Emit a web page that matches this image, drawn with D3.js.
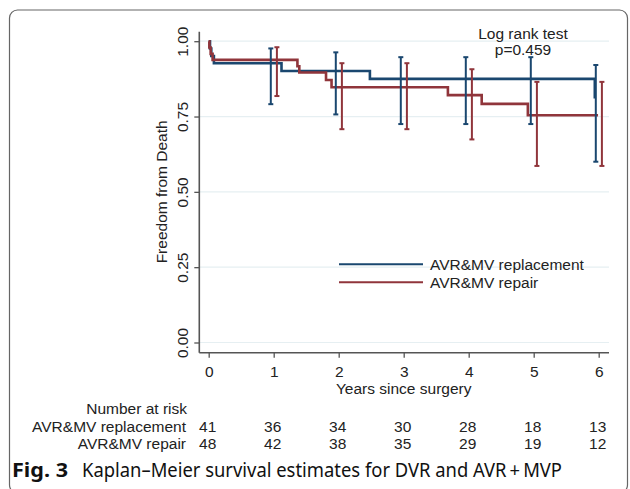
<!DOCTYPE html>
<html lang="en">
<head>
<meta charset="UTF-8">
<title>Kaplan-Meier survival estimates</title>
<style>
  body { margin: 0; background: #fff; }
  svg { display: block; font-family: "Liberation Sans", Arial, sans-serif; }
  .axis text { font-size: 15.5px; fill: #222; }
  .axis line { stroke: #555; stroke-width: 1.3px; }
  .axis path { display: none; }
</style>
</head>
<body>
<div id="chart"></div>
<script src="https://d3js.org/d3.v7.min.js"></script>
<script>
// data
const groups = ["AVR&MV replacement", "AVR&MV repair"];
const yearTicks = [0, 1, 2, 3, 4, 5, 6];
const survTicks = [0, 0.25, 0.5, 0.75, 1];

const replTime = [0, 0.02, 0.04, 0.08, 1.12, 2.48, 5.94, 5.96];
const replSurv = [1, 0.976, 0.951, 0.927, 0.901, 0.875, 0.814, 0.814];
const repairTime = [0, 0.01, 0.03, 0.06, 1.365, 1.394, 1.805, 1.89, 3.68, 4.20, 4.91, 5.99];
const repairSurv = [1, 0.979, 0.958, 0.938, 0.917, 0.896, 0.871, 0.847, 0.821, 0.792, 0.754, 0.754];

const ciYears = [1, 2, 3, 4, 5, 6];
const replLo = [0.791, 0.757, 0.725, 0.725, 0.725, 0.600];
const replHi = [0.976, 0.963, 0.947, 0.947, 0.947, 0.921];
const repairLo = [0.818, 0.708, 0.708, 0.674, 0.586, 0.586];
const repairHi = [0.980, 0.927, 0.927, 0.907, 0.865, 0.865];

const replRisk = [41, 36, 34, 30, 28, 18, 13];
const repairRisk = [48, 42, 38, 35, 29, 19, 12];

const colors = ["#1a476f", "#90353b"];
const fs = "15.5px";

const W = 630, H = 489;
const svg = d3.select("#chart").append("svg")
  .attr("width", W)
  .attr("height", H);

// figure frame
svg.append("rect")
  .attr("x", 9.5).attr("y", 10)
  .attr("width", 618).attr("height", 483)
  .attr("rx", 8)
  .attr("fill", "none")
  .attr("stroke", "#666")
  .attr("stroke-width", 1.2);

const x = d3.scaleLinear().domain([0, 6]).range([208.7, 598.7]);
const y = d3.scaleLinear().domain([0, 1]).range([342.5, 41.2]);

const axisX = 199.3, axisY = 352.7, plotRight = 609, plotTop = 31.7;

// gridlines
svg.append("g")
  .selectAll("line")
  .data(survTicks)
  .enter().append("line")
  .attr("x1", axisX).attr("x2", plotRight)
  .attr("y1", d => y(d)).attr("y2", d => y(d))
  .attr("stroke", "#e6eff2")
  .attr("stroke-width", 1.2);

// y axis
const gy = svg.append("g")
  .attr("class", "axis")
  .attr("transform", `translate(${axisX},0)`)
  .call(d3.axisLeft(y).tickValues(survTicks).tickSize(5).tickFormat(d3.format(".2f")));
gy.selectAll(".tick text")
  .attr("transform", "rotate(-90)")
  .attr("x", 0)
  .attr("dy", 0)
  .attr("y", -11.5)
  .style("text-anchor", "middle");

// x axis
svg.append("g")
  .attr("class", "axis")
  .attr("transform", `translate(0,${axisY})`)
  .call(d3.axisBottom(x).tickValues(yearTicks).tickSize(5).tickPadding(8).tickFormat(d3.format("d")));

svg.append("line")
  .attr("x1", axisX).attr("x2", axisX)
  .attr("y1", plotTop).attr("y2", axisY)
  .attr("stroke", "#555").attr("stroke-width", 1.6);
svg.append("line")
  .attr("x1", axisX).attr("x2", plotRight)
  .attr("y1", axisY).attr("y2", axisY)
  .attr("stroke", "#555").attr("stroke-width", 1.6);

// axis titles
svg.append("text")
  .attr("transform", `translate(167,${(y(0) + y(1)) / 2}) rotate(-90)`)
  .attr("text-anchor", "middle")
  .style("font-size", fs).attr("fill", "#222")
  .text("Freedom from Death");

svg.append("text")
  .attr("x", x(3)).attr("y", 394)
  .attr("text-anchor", "middle")
  .style("font-size", fs).attr("fill", "#222")
  .text("Years since surgery");

// survival curves
const step = d3.line()
  .x(d => x(d[0]))
  .y(d => y(d[1]))
  .curve(d3.curveStepAfter);

const curves = [
  d3.zip(replTime, replSurv),
  d3.zip(repairTime, repairSurv)
];

// confidence intervals
const cis = [
  ciYears.map((t, i) => ({t: t, lo: replLo[i], hi: replHi[i]})),
  ciYears.map((t, i) => ({t: t, lo: repairLo[i], hi: repairHi[i]}))
];
const offsets = [-2.9, 3.2];

curves.forEach((c, k) => {
  svg.append("path")
    .datum(c)
    .attr("d", step)
    .attr("fill", "none")
    .attr("stroke", colors[k])
    .attr("stroke-width", 2.6);
});

cis.forEach((ci, k) => {
  const g = svg.append("g").attr("stroke", colors[k]).attr("stroke-width", 2);
  g.selectAll(".bar").data(ci).enter().append("line")
    .attr("x1", d => x(d.t) + offsets[k]).attr("x2", d => x(d.t) + offsets[k])
    .attr("y1", d => y(d.lo)).attr("y2", d => y(d.hi));
  g.selectAll(".capLo").data(ci).enter().append("line")
    .attr("x1", d => x(d.t) + offsets[k] - 2.5).attr("x2", d => x(d.t) + offsets[k] + 2.5)
    .attr("y1", d => y(d.lo)).attr("y2", d => y(d.lo));
  g.selectAll(".capHi").data(ci).enter().append("line")
    .attr("x1", d => x(d.t) + offsets[k] - 2.5).attr("x2", d => x(d.t) + offsets[k] + 2.5)
    .attr("y1", d => y(d.hi)).attr("y2", d => y(d.hi));
});

// annotation
svg.append("text")
  .attr("x", 523).attr("y", 39)
  .attr("text-anchor", "middle")
  .style("font-size", fs).attr("fill", "#222")
  .text("Log rank test");
svg.append("text")
  .attr("x", 523).attr("y", 54.5)
  .attr("text-anchor", "middle")
  .style("font-size", fs).attr("fill", "#222")
  .text("p=0.459");

// legend
const legend = svg.append("g");
groups.forEach((g, k) => {
  const ly = 264.3 + k * 18;
  legend.append("line")
    .attr("x1", 339).attr("x2", 423)
    .attr("y1", ly).attr("y2", ly)
    .attr("stroke", colors[k]).attr("stroke-width", 2);
  legend.append("text")
    .attr("x", 430).attr("y", ly + 5.5)
    .style("font-size", fs).attr("fill", "#222")
    .text(g);
});

// number at risk table
svg.append("text")
  .attr("x", 187).attr("y", 414)
  .attr("text-anchor", "end")
  .style("font-size", fs).attr("fill", "#222")
  .text("Number at risk");

[replRisk, repairRisk].forEach((row, k) => {
  const ry = 431.7 + k * 16.8;
  svg.append("text")
    .attr("x", 186).attr("y", ry)
    .attr("text-anchor", "end")
    .style("font-size", fs).attr("fill", "#222")
    .text(groups[k]);
  svg.append("g").selectAll("text")
    .data(row)
    .enter().append("text")
    .attr("x", (d, i) => x(yearTicks[i]) - 1)
    .attr("y", ry)
    .attr("text-anchor", "middle")
    .style("font-size", fs).attr("fill", "#222")
    .text(d => d);
});

// caption
const capFont = "'Noto Sans', 'Open Sans', sans-serif";
svg.append("text")
  .attr("x", 12).attr("y", 477)
  .style("font-family", capFont)
  .style("font-size", "20px").style("font-weight", "bold").attr("fill", "#111")
  .attr("textLength", 56).attr("lengthAdjust", "spacingAndGlyphs")
  .text("Fig. 3");
svg.append("text")
  .attr("x", 82).attr("y", 477)
  .style("font-family", capFont)
  .style("font-size", "20px").attr("fill", "#111")
  .attr("textLength", 480).attr("lengthAdjust", "spacingAndGlyphs")
  .text("Kaplan\u2013Meier survival estimates for DVR and AVR\u2009+\u2009MVP");
</script>
</body>
</html>
